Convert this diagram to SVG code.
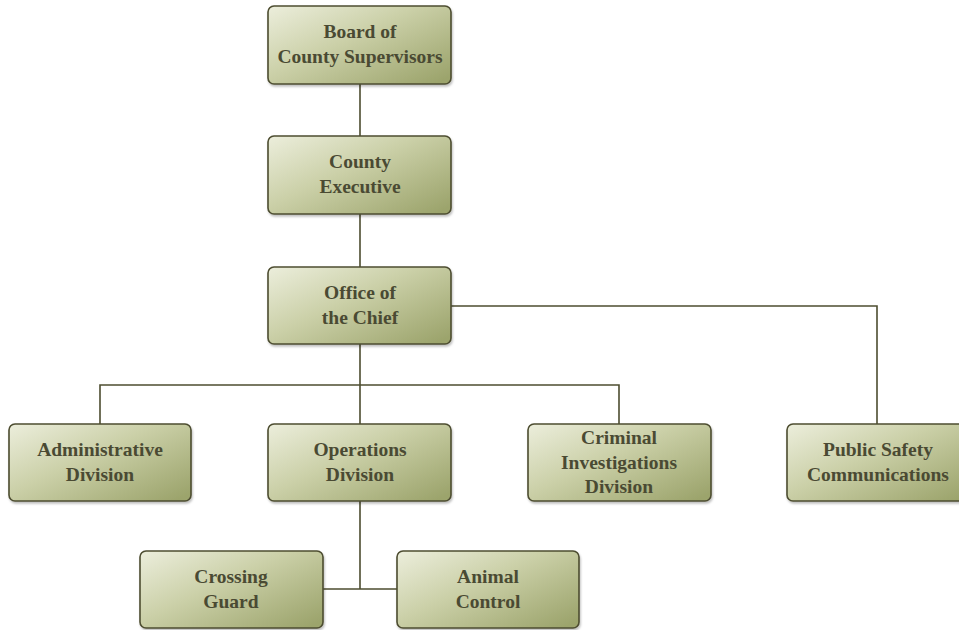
<svg xmlns="http://www.w3.org/2000/svg" width="959" height="630" viewBox="0 0 959 630">
<defs>
<linearGradient id="g" x1="0" y1="0" x2="1" y2="0.9">
<stop offset="0" stop-color="#eceedc"/>
<stop offset="0.45" stop-color="#cbd0a8"/>
<stop offset="1" stop-color="#9ca46c"/>
</linearGradient>
<filter id="sh" x="-5%" y="-5%" width="115%" height="120%">
<feDropShadow dx="1" dy="2" stdDeviation="1.2" flood-color="#000" flood-opacity="0.25"/>
</filter>
</defs>
<style>
.box{fill:url(#g);stroke:#4d4d30;stroke-width:1.6;filter:url(#sh)}
.t{font-family:"Liberation Serif","Times New Roman",serif;font-weight:bold;font-size:19.5px;fill:#4a4a33;text-anchor:middle}
.c{fill:none;stroke:#4d4d30;stroke-width:1.6}
</style>
<rect width="959" height="630" fill="#fff"/>
<g id="connectors">
<path class="c" d="M360 84V136M360 214V267M360 344V424M100 424V385H619V424M451 306H877V424M360 501V589M323 589H397"/>
</g>
<g id="board"><rect class="box" x="268" y="6" width="183" height="78" rx="6"/><text class="t" x="360" y="38">Board of</text><text class="t" x="360" y="63">County Supervisors</text></g>
<g id="exec"><rect class="box" x="268" y="136" width="183" height="78" rx="6"/><text class="t" x="360" y="168">County</text><text class="t" x="360" y="193">Executive</text></g>
<g id="chief"><rect class="box" x="268" y="267" width="183" height="77" rx="6"/><text class="t" x="360" y="299">Office of</text><text class="t" x="360" y="324">the Chief</text></g>
<g id="admin"><rect class="box" x="9" y="424" width="182" height="77" rx="6"/><text class="t" x="100" y="456">Administrative</text><text class="t" x="100" y="481">Division</text></g>
<g id="ops"><rect class="box" x="268" y="424" width="183" height="77" rx="6"/><text class="t" x="360" y="456">Operations</text><text class="t" x="360" y="481">Division</text></g>
<g id="cid"><rect class="box" x="528" y="424" width="183" height="77" rx="6"/><text class="t" x="619" y="444">Criminal</text><text class="t" x="619" y="469">Investigations</text><text class="t" x="619" y="493">Division</text></g>
<g id="psc"><rect class="box" x="787" y="424" width="183" height="77" rx="6"/><text class="t" x="878" y="456">Public Safety</text><text class="t" x="878" y="481">Communications</text></g>
<g id="crossing"><rect class="box" x="140" y="551" width="183" height="77" rx="6"/><text class="t" x="231" y="583">Crossing</text><text class="t" x="231" y="608">Guard</text></g>
<g id="animal"><rect class="box" x="397" y="551" width="182" height="77" rx="6"/><text class="t" x="488" y="583">Animal</text><text class="t" x="488" y="608">Control</text></g>
</svg>
